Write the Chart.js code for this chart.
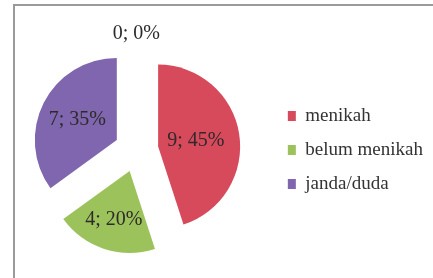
<!DOCTYPE html>
<html>
<head>
<meta charset="utf-8">
<script src="https://cdn.jsdelivr.net/npm/chart.js@4"></script>
<style>
  html, body { margin: 0; padding: 0; background: #fff; overflow: hidden; }
  #wrap { position: relative; width: 433px; height: 278px; }
</style>
</head>
<body>
<div id="wrap"><canvas id="chart"></canvas></div>
<script>
const categories = ['menikah', 'belum menikah', 'janda/duda', ''];
const counts = [9, 4, 7, 0];
const colors = ['#d64a5c', '#9cc35b', '#8066ae', '#999999'];

const EXPLODE = 22;
const serif = "'Liberation Serif', 'Times New Roman', serif";

// grey frame of the original figure, cut off on the right and bottom
const framePlugin = {
  id: 'frame',
  beforeDraw(chart) {
    const ctx = chart.ctx;
    ctx.save();
    ctx.strokeStyle = '#9a9a9a';
    ctx.lineWidth = 2;
    ctx.strokeRect(14, 5, chart.width + 20, chart.height + 20);
    ctx.restore();
  }
};

// pull slices out from the centre (plain translate, keeps the radius equal)
const explodePlugin = {
  id: 'explode',
  beforeDatasetDraw(chart, args) {
    const ctx = chart.ctx;
    args.meta.data.forEach(arc => {
      const mid = (arc.startAngle + arc.endAngle) / 2;
      ctx.save();
      ctx.translate(Math.cos(mid) * EXPLODE, Math.sin(mid) * EXPLODE);
      arc.draw(ctx);
      ctx.restore();
    });
    return false;
  },
  afterDatasetsDraw(chart) {
    const ctx = chart.ctx;
    const meta = chart.getDatasetMeta(0);
    const total = counts.reduce((a, b) => a + b, 0);
    ctx.save();
    ctx.font = '20px ' + serif;
    ctx.textAlign = 'center';
    ctx.textBaseline = 'middle';
    ctx.fillStyle = '#2e2a2a';
    meta.data.forEach((arc, i) => {
      const mid = (arc.startAngle + arc.endAngle) / 2;
      const half = (arc.endAngle - arc.startAngle) / 2;
      // labels sit on the centroid of the sector, empty slice goes outside
      const dist = counts[i] > 0
        ? EXPLODE + (2 / 3) * arc.outerRadius * Math.sin(half) / half
        : EXPLODE + arc.outerRadius + 12;
      const pct = Math.round(counts[i] / total * 100);
      ctx.fillText(counts[i] + '; ' + pct + '%',
        arc.x + Math.cos(mid) * dist, arc.y + Math.sin(mid) * dist);
    });
    ctx.restore();
  }
};

new Chart(document.getElementById('chart'), {
  type: 'pie',
  data: {
    labels: categories,
    datasets: [{
      data: counts,
      backgroundColor: colors,
      borderWidth: 0,
      radius: 82
    }]
  },
  options: {
    responsive: true,
    maintainAspectRatio: false,
    animation: false,
    layout: { padding: { top: 22, left: 0, right: 0, bottom: 0 } },
    plugins: {
      tooltip: { enabled: false },
      legend: {
        position: 'right',
        labels: {
          boxWidth: 8,
          boxHeight: 10,
          padding: 15,
          color: '#333',
          font: { family: serif, size: 19 },
          filter: item => item.text !== ''
        }
      }
    }
  },
  plugins: [framePlugin, explodePlugin]
});
</script>
</body>
</html>
